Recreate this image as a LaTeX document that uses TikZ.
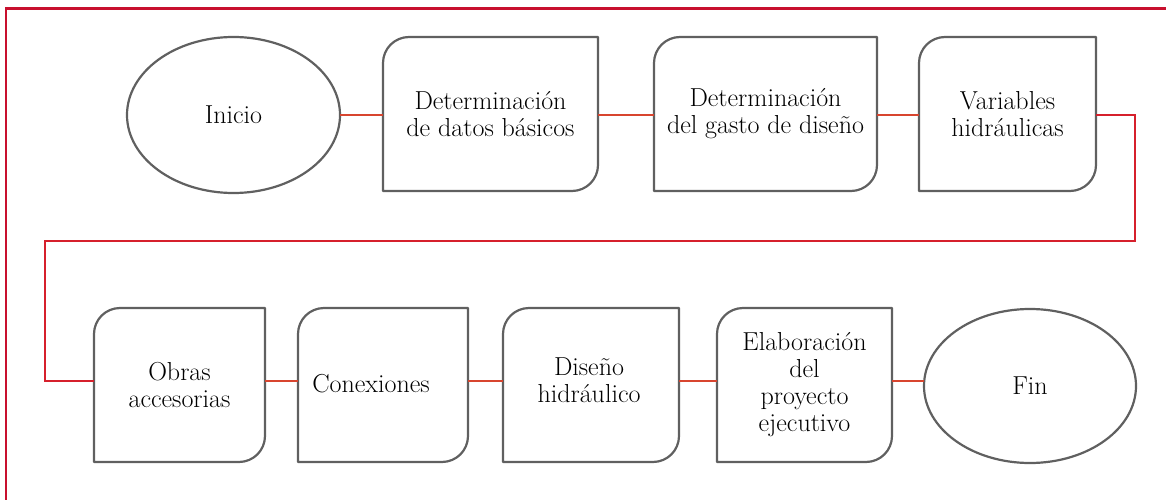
\documentclass[tikz,border=0pt]{standalone}
\usepackage{fontspec}
\usetikzlibrary{shapes.geometric,calc}
\definecolor{framecol}{HTML}{C8102E}
\definecolor{linkcol}{HTML}{D8452F}
\definecolor{loopcol}{HTML}{D6202C}
\definecolor{boxcol}{HTML}{606060}
\begin{document}
\begin{tikzpicture}[x=1pt,y=1pt,
  txt/.style={font=\fontsize{26}{27}\selectfont, align=center, text=black},
  stepbox/.style={txt, rectangle, inner sep=0pt, outer sep=0pt, minimum height=154pt},
  term/.style={txt, ellipse, draw=boxcol, line width=2.2pt, inner sep=0pt, outer sep=0pt,
    minimum width=213pt, minimum height=156pt},
  outline/.style={draw=boxcol, line width=2.2pt, line join=round},
  link/.style={draw=linkcol, line width=2.2pt},
  loop/.style={draw=loopcol, line width=2.2pt},
  frame/.style={draw=framecol, line width=2.2pt}]
\useasboundingbox (0,0) rectangle (1166,499);
\draw[frame] (1180,-10) |- (6,490.5) -- (6,-10);

% row 1
\node[term] (ini) at (233.5,384) {Inicio};
\node[stepbox, minimum width=215pt] (b1) at (490.5,385) {Determinación\\de datos básicos};
\node[stepbox, minimum width=223pt] (b2) at (765.5,385) {Determinación\\del gasto de diseño};
\node[stepbox, minimum width=177pt] (b3) at (1007.5,385) {Variables\\hidráulicas};

% row 2
\node[stepbox, minimum width=171pt] (b4) at (179.5,114) {Obras\\accesorias};
\node[stepbox, minimum width=170pt] (b5) at (383,114) {};
\node[txt] (t5) at ([xshift=-12pt,yshift=1pt]b5.center) {Conexiones};
\node[stepbox, minimum width=176pt] (b6) at (591,114) {};
\node[txt] (t6) at ([xshift=-2pt,yshift=5pt]b6.center) {Diseño\\hidráulico};
\node[stepbox, minimum width=175pt] (b7) at (804.5,114) {Elaboración\\del\\proyecto\\ejecutivo};
\node[term, minimum height=154pt, minimum width=212pt] (fin) at (1030,113) {Fin};

\foreach \n in {b1,b2,b3,b4,b5,b6,b7}{
  \draw[outline] (\n.north east) -- ([yshift=26pt]\n.south east)
    arc[start angle=0, end angle=-90, radius=26pt] -- (\n.south west)
    -- ([yshift=-26pt]\n.north west)
    arc[start angle=180, end angle=90, radius=26pt] -- cycle;
}

% connectors
\draw[link] (ini.east) -- (ini.east -| b1.west);
\draw[link] ([yshift=-1pt]b1.east) -- ([yshift=-1pt]b2.west);
\draw[link] ([yshift=-1pt]b2.east) -- ([yshift=-1pt]b3.west);
\coordinate (r1) at (1135,258);
\coordinate (l1) at (45,258);
\draw[loop] ([yshift=-1pt]b3.east) -| (r1) -- (l1) |- ([yshift=4pt]b4.west);
\draw[link] ([yshift=4pt]b4.east) -- ([yshift=4pt]b5.west);
\draw[link] ([yshift=4pt]b5.east) -- ([yshift=4pt]b6.west);
\draw[link] ([yshift=4pt]b6.east) -- ([yshift=4pt]b7.west);
\draw[link] ([yshift=4pt]b7.east) -- ($(fin.west)+(0.3pt,5pt)$);
\end{tikzpicture}
\end{document}
